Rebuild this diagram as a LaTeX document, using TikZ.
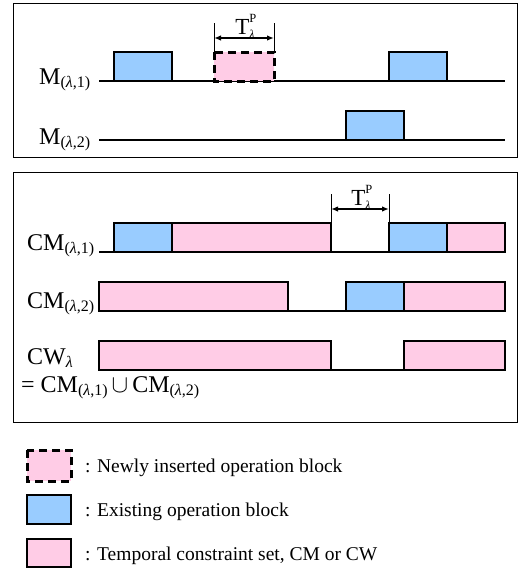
\documentclass[tikz,border=0pt]{standalone}
\usepackage{fontspec}
\setmainfont{Liberation Serif}
\usetikzlibrary{arrows.meta}
\definecolor{opblue}{HTML}{99CCFF}
\definecolor{cspink}{HTML}{FFCCE6}
% small lowered index, e.g. (lambda,1)
\newcommand{\lsub}[1]{\raisebox{-0.35ex}{\fontsize{16}{16}\selectfont #1}}
% processing time T^P_lambda
\newcommand{\tproc}{T\rlap{\raisebox{1.05ex}{\fontsize{12.5}{12.5}\selectfont P}}\raisebox{-0.45ex}{\fontsize{12}{12}\selectfont\textit{λ}}}

\begin{document}
\begin{tikzpicture}[x=1pt, y=-1pt,
    every node/.style={inner sep=0pt},
    lbl/.style={font=\fontsize{24}{26}\selectfont, anchor=base west},
    legtxt/.style={font=\fontsize{19.5}{22}\selectfont, anchor=base west},
    frame/.style={draw, line width=0.9pt},
    axis/.style={line width=1.8pt},
    oldop/.style={draw, line width=2pt, fill=opblue},
    cset/.style={draw, line width=2pt, fill=cspink},
    newop/.style={draw, line width=3pt, dash pattern=on 8pt off 5pt, fill=cspink},
    tick/.style={line width=0.8pt},
    dim/.style={{Latex[length=7pt,width=5.5pt]}-{Latex[length=7pt,width=5.5pt]}, line width=1.4pt}
]
    \useasboundingbox (0,0) rectangle (526,570);

    % Upper panel: machines
    \draw[frame] (13,3) rectangle (517,157);

    \node[lbl] (m1) at (39,84) {M\lsub{(\textit{λ},1)}};
    \node[lbl] (m2) at (39,144) {M\lsub{(\textit{λ},2)}};

    \draw[axis] (99,81) -- (505,81);
    \draw[axis] (99,140) -- (505,140);

    \draw[oldop] (114,52) rectangle (172,81);
    \draw[newop] (214,52) rectangle (274,81);
    \draw[oldop] (389,52) rectangle (447,81);
    \draw[oldop] (346,111) rectangle (404,140);

    % T^P over the new block
    \coordinate (d1a) at (214,38);
    \coordinate (d1b) at (274,38);
    \draw[tick] (214,23) -- (214,52);
    \draw[tick] (274,23) -- (274,52);
    \draw[dim] (d1a) -- (d1b);
    \node[font=\fontsize{23}{23}\selectfont, anchor=base] (tp1) at (245,34) {\tproc};

    % Lower panel: constraint sets
    \draw[frame] (13,172) rectangle (517,422);

    \node[lbl] (cm1) at (27,250) {CM\lsub{(\textit{λ},1)}};
    \node[lbl] (cm2) at (27,308) {CM\lsub{(\textit{λ},2)}};
    \node[lbl] (cw) at (27,364) {CW\lsub{\textit{λ}}};
    \node[lbl] (cwdef) at (21,392) {= CM\lsub{(\textit{λ},1)}\,$\cup$\,CM\lsub{(\textit{λ},2)}};

    \draw[axis] (99,252) -- (505,252);
    \draw[axis] (99,311) -- (505,311);
    \draw[axis] (99,370) -- (505,370);

    % CM(lambda,1)
    \draw[oldop] (114,223) rectangle (172,252);
    \draw[cset] (172,223) rectangle (331,252);
    \draw[oldop] (389,223) rectangle (447,252);
    \draw[cset] (447,223) rectangle (505,252);

    % CM(lambda,2)
    \draw[cset] (99,282) rectangle (288,311);
    \draw[oldop] (346,282) rectangle (404,311);
    \draw[cset] (404,282) rectangle (505,311);

    % CW(lambda)
    \draw[cset] (99,341) rectangle (331,370);
    \draw[cset] (404,341) rectangle (505,370);

    % T^P over the gap
    \coordinate (d2a) at (331,209);
    \coordinate (d2b) at (389,209);
    \draw[tick] (331,194) -- (331,223);
    \draw[tick] (389,194) -- (389,223);
    \draw[dim] (d2a) -- (d2b);
    \node[font=\fontsize{23}{23}\selectfont, anchor=base] (tp2) at (361,205) {\tproc};

    % Legend
    \draw[newop] (27,450) rectangle (71,481);
    \draw[oldop] (27,495) rectangle (71,524);
    \draw[cset] (27,539) rectangle (71,567);

    \node[legtxt] (lg1) at (85,472) {: Newly inserted operation block};
    \node[legtxt] (lg2) at (85,516) {: Existing operation block};
    \node[legtxt] (lg3) at (85,560) {: Temporal constraint set, CM or CW};
\end{tikzpicture}
\end{document}
